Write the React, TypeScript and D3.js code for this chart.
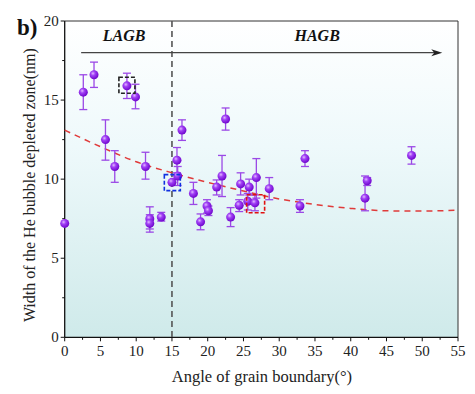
import React from "react";
import * as d3 from "d3";

// grain boundary angle (deg) and depleted zone width (nm), with error bar ends
const angle = [0, 2.6, 4.1, 5.7, 7.0, 8.7, 9.9, 11.3, 11.9, 11.9, 13.5, 15.0, 15.7, 15.8, 16.4, 18.0, 19.0, 19.9, 20.1, 21.25, 22.0, 22.5, 23.2, 24.4, 24.6, 25.6, 25.8, 26.6, 26.8, 28.6, 32.9, 33.6, 42.0, 42.3, 48.5];
const width = [7.2, 15.5, 16.6, 12.5, 10.8, 15.9, 15.2, 10.8, 7.5, 7.2, 7.6, 9.8, 11.2, 10.2, 13.1, 9.1, 7.3, 8.3, 8.0, 9.5, 10.2, 13.8, 7.6, 8.35, 9.7, 8.6, 9.5, 8.5, 10.1, 9.4, 8.3, 11.3, 8.8, 9.9, 11.5];
const errHi = [7.2, 16.6, 17.4, 13.75, 11.8, 16.7, 16.0, 11.7, 8.25, 7.75, 7.9, 9.8, 12.0, 10.8, 13.75, 9.8, 7.8, 8.7, 8.3, 9.95, 11.5, 14.5, 8.2, 8.7, 10.4, 9.1, 10.0, 9.0, 11.3, 10.1, 8.7, 11.8, 10.2, 10.1, 12.05];
const errLo = [7.2, 14.4, 15.8, 11.2, 9.8, 15.1, 14.45, 10.0, 6.85, 6.65, 7.35, 9.8, 10.4, 9.6, 12.45, 8.4, 6.8, 7.85, 7.7, 9.0, 8.9, 13.1, 7.0, 7.95, 9.0, 8.05, 9.0, 8.0, 8.8, 8.7, 7.9, 10.8, 8.0, 9.6, 10.95];

// fitted trend
const trendX = [0, 5, 10, 15, 20, 25, 30, 35, 40, 45, 50, 55];
const trendY = [13.1, 12.05, 11.1, 10.4, 9.8, 9.25, 8.75, 8.4, 8.15, 8.0, 7.98, 8.05];

const xTicks = [0, 5, 10, 15, 20, 25, 30, 35, 40, 45, 50, 55];
const yTicks = [0, 5, 10, 15, 20];

// highlighted points (x, y, box colour)
const boxX = [8.7, 15.05, 26.7];
const boxY = [15.94, 9.78, 8.44];
const boxColor = ["#222", "#1030e0", "#e01010"];
const boxSize = [16, 16, 18];

const W = 475, H = 394;
const m = { left: 64.7, right: 458, top: 21, bottom: 337.3 };

export default function App() {
  const x = d3.scaleLinear().domain([0, 55]).range([m.left, m.right]);
  const y = d3.scaleLinear().domain([0, 20]).range([m.bottom, m.top]);

  const trend = d3.line<number>()
    .x((d, i) => x(trendX[i]))
    .y(d => y(d))
    .curve(d3.curveMonotoneX)(trendY);

  const minorX = d3.range(2.5, 55, 5);
  const minorY = d3.range(2.5, 20, 5);
  const font = "'Liberation Serif', 'Times New Roman', serif";

  return (
    <svg width={W} height={H} style={{ position: "absolute", left: 0, top: 0, background: "#fff" }} fontFamily={font}>
      <defs>
        <linearGradient id="bg" x1="0" y1="0" x2="0" y2="1">
          <stop offset="0" stopColor="#ffffff" />
          <stop offset="0.4" stopColor="#eef9fb" />
          <stop offset="1" stopColor="#cfeaea" />
        </linearGradient>
        <radialGradient id="ball" cx="0.38" cy="0.35" r="0.7">
          <stop offset="0" stopColor="#e2b8ff" />
          <stop offset="0.35" stopColor="#a040f5" />
          <stop offset="1" stopColor="#6a00c8" />
        </radialGradient>
      </defs>

      <rect x={m.left} y={m.top} width={m.right - m.left} height={m.bottom - m.top} fill="url(#bg)" />

      {/* frame */}
      <line x1={m.left} x2={m.right} y1={m.top} y2={m.top} stroke="#333" strokeWidth={1} />
      <line x1={m.right} x2={m.right} y1={m.top} y2={m.bottom} stroke="#333" strokeWidth={1} />
      <line x1={m.left} x2={m.right} y1={m.bottom} y2={m.bottom} stroke="#111" strokeWidth={1.3} />
      <line x1={m.left} x2={m.left} y1={m.top} y2={m.bottom} stroke="#111" strokeWidth={1.3} />

      {xTicks.map(t => (
        <g key={"xt" + t}>
          <line x1={x(t)} x2={x(t)} y1={m.bottom} y2={m.bottom + 4} stroke="#111" />
          <text x={x(t)} y={m.bottom + 19} textAnchor="middle" fontSize={15} fill="#222">{t}</text>
        </g>
      ))}
      {minorX.map(t => (
        <line key={"xm" + t} x1={x(t)} x2={x(t)} y1={m.bottom} y2={m.bottom + 2.5} stroke="#111" />
      ))}
      {yTicks.map(t => (
        <g key={"yt" + t}>
          <line x1={m.left - 4} x2={m.left} y1={y(t)} y2={y(t)} stroke="#111" />
          <text x={m.left - 6} y={y(t) + 5} textAnchor="end" fontSize={15} fill="#222">{t}</text>
        </g>
      ))}
      {minorY.map(t => (
        <line key={"ym" + t} x1={m.left - 2.5} x2={m.left} y1={y(t)} y2={y(t)} stroke="#111" />
      ))}

      <text x={262} y={382} textAnchor="middle" fontSize={16.5} fill="#222">Angle of grain boundary(°)</text>
      <text transform={`translate(35,${(m.top + m.bottom) / 2 + 6}) rotate(-90)`} textAnchor="middle" fontSize={16} fill="#222">
        Width of the He bubble depleted zone(nm)
      </text>
      <text x={17} y={35} fontSize={23} fontWeight="bold" fill="#111">b)</text>

      {/* LAGB / HAGB divider and arrow */}
      <line x1={x(15)} x2={x(15)} y1={y(20)} y2={y(0)} stroke="#555" strokeWidth={1.6} strokeDasharray="6,4" />
      <line x1={x(2.3)} x2={x(52.2)} y1={y(18)} y2={y(18)} stroke="#444" strokeWidth={1.4} />
      <path d={`M${x(52.8)},${y(18)} l-11,-3.5 l3,3.5 l-3,3.5 Z`} fill="#222" />
      <text x={x(8.3)} y={41} textAnchor="middle" fontSize={16} fontWeight="bold" fontStyle="italic" fill="#111">LAGB</text>
      <text x={x(35.3)} y={41} textAnchor="middle" fontSize={16} fontWeight="bold" fontStyle="italic" fill="#111">HAGB</text>

      {/* fitted trend */}
      <path d={trend || ""} fill="none" stroke="#e03a3a" strokeWidth={1.5} strokeDasharray="6,5" />

      {/* error bars */}
      {angle.map((a, i) => errHi[i] === errLo[i] ? null : (
        <g key={"e" + i} stroke="#9b48e6" strokeWidth={1.3}>
          <line x1={x(a)} x2={x(a)} y1={y(errHi[i])} y2={y(errLo[i])} />
          <line x1={x(a) - 4} x2={x(a) + 4} y1={y(errHi[i])} y2={y(errHi[i])} />
          <line x1={x(a) - 4} x2={x(a) + 4} y1={y(errLo[i])} y2={y(errLo[i])} />
        </g>
      ))}

      {/* points */}
      {angle.map((a, i) => (
        <circle key={"p" + i} cx={x(a)} cy={y(width[i])} r={4.5} fill="url(#ball)" />
      ))}

      {/* highlighted boxes */}
      {boxX.map((bx, i) => (
        <rect key={"b" + i} x={x(bx) - boxSize[i] / 2} y={y(boxY[i]) - boxSize[i] / 2} width={boxSize[i]} height={boxSize[i]}
          fill="none" stroke={boxColor[i]} strokeWidth={1.6} strokeDasharray="4,2" />
      ))}
    </svg>
  );
}
